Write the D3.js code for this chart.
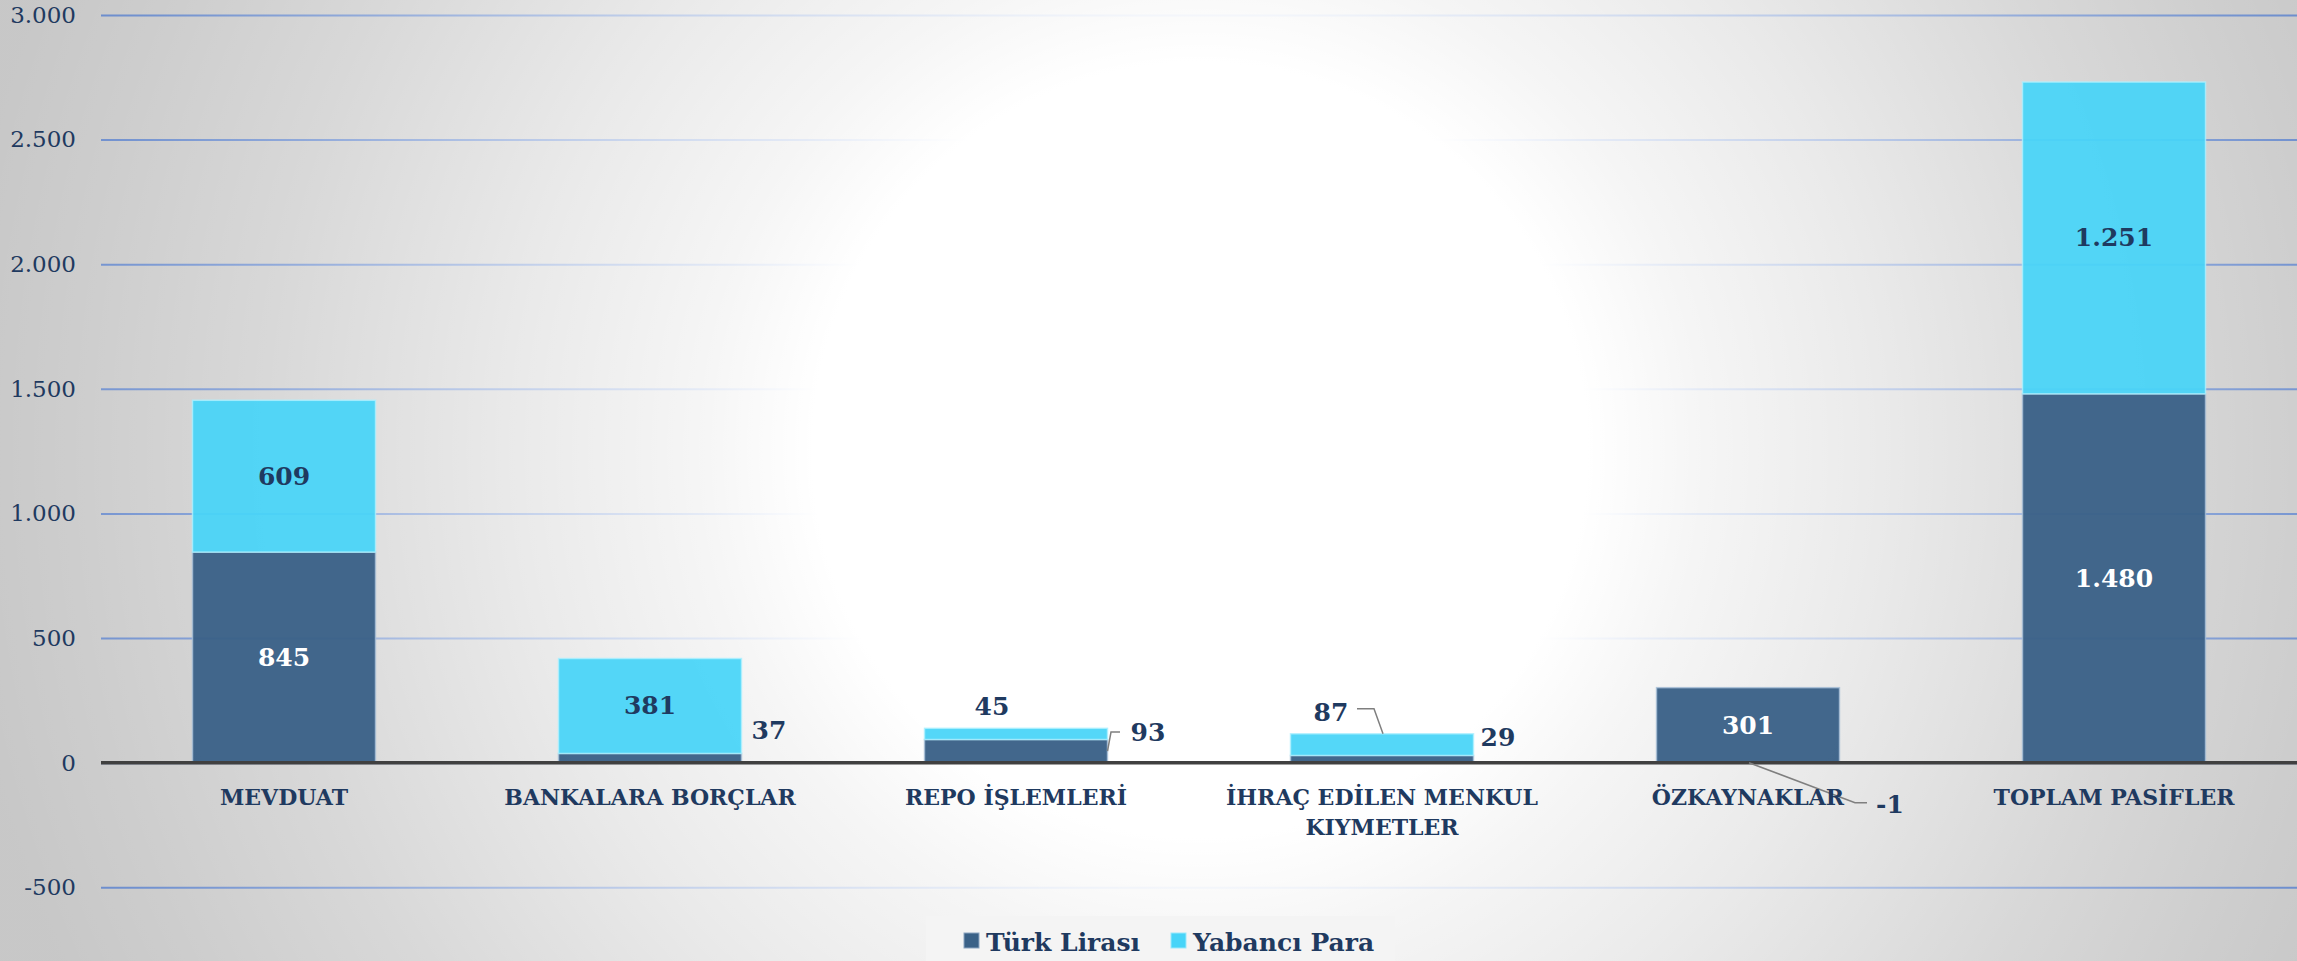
<!DOCTYPE html>
<html><head><meta charset="utf-8">
<script src="https://cdn.jsdelivr.net/npm/d3@7"></script>
<style>html,body{margin:0;padding:0;overflow:hidden;background:#c4c4c4}</style>
</head><body><svg id="chart" width="2297" height="961"></svg>
<script>
// ---- data ----
const categories = ["MEVDUAT","BANKALARA BORÇLAR","REPO İŞLEMLERİ","İHRAÇ EDİLEN MENKUL KIYMETLER","ÖZKAYNAKLAR","TOPLAM PASİFLER"];
const categoryLines = [["MEVDUAT"],["BANKALARA BORÇLAR"],["REPO İŞLEMLERİ"],["İHRAÇ EDİLEN MENKUL","KIYMETLER"],["ÖZKAYNAKLAR"],["TOPLAM PASİFLER"]];
const seriesNames = ["Türk Lirası","Yabancı Para"];
const turkLirasi = [845,37,93,29,301,1480];
const yabanciPara = [609,381,45,87,-1,1251];
const yTicks = [-500,0,500,1000,1500,2000,2500,3000];

// ---- label placement (style config) ----
const outsideLabels = {
  "1|0": {anchor:"start", ref:"right", dx:10, from:"top", dy:-23},
  "2|1": {anchor:"middle", ref:"center", dx:-24, from:"top", dy:-22},
  "2|0": {anchor:"start", ref:"right", dx:23, from:"mid", dy:-19,
          leader:[[0,0,"mid",0],[3.5,0,"mid",-19],[12.5,0,"mid",-19]], leaderRef:"right"},
  "3|1": {anchor:"middle", ref:"center", dx:-51, from:"top", dy:-21,
          leader:[[-25,0,"top",-25],[-8,0,"top",-25],[1,0,"top",0]], leaderRef:"center"},
  "3|0": {anchor:"start", ref:"right", dx:7, from:"top", dy:-18},
  "4|1": {anchor:"start", ref:"center", dx:128, from:"zero", dy:42,
          leader:[[1,0,"zero",0],[107,0,"zero",40],[119,0,"zero",40]], leaderRef:"center"}
};

const W = 2297, H = 961;
const svg = d3.select("#chart");
const defs = svg.append("defs");
const FONT = "'DejaVu Serif', 'Liberation Serif', serif";
const NAVY = "#1f3a60";
const colors = ["#3a6187", "#47d4f8"];

const loc = d3.formatLocale({decimal:",", thousands:".", grouping:[3], currency:["₺",""], minus:"-"});
const fmt = loc.format(",d");

// background
svg.append("rect").attr("width", W).attr("height", H).attr("fill", "#c4c4c4");

const glow = defs.append("radialGradient").attr("id","glow")
  .attr("gradientUnits","userSpaceOnUse").attr("cx",1200).attr("cy",450).attr("r",1250);
[[0,1],[0.31,1],[0.4,0.84],[0.55,0.64],[0.75,0.34],[0.9,0.16],[1,0.06]].forEach(([o,a]) =>
  glow.append("stop").attr("offset",o).attr("stop-color","#ffffff").attr("stop-opacity",a));

// scales
const x = d3.scaleBand().domain(categories).range([101, W]).paddingInner(0.5).paddingOuter(0.25);
const y = d3.scaleLinear().domain([-500, 3000]).range([887.3, 15]);

// gridlines
const grid = svg.append("g").call(d3.axisLeft(y).tickValues(yTicks).tickSize(-(W-101)).tickFormat(""))
  .attr("transform","translate(101,0)");
grid.select(".domain").remove();
grid.selectAll(".tick line").attr("stroke","#4f78c8").attr("stroke-width",2).attr("stroke-opacity",0.9);

// glow overlay
svg.append("rect").attr("width", W).attr("height", H).attr("fill", "url(#glow)");

// tick labels
const yAxis = svg.append("g").attr("transform","translate(101,0)")
  .call(d3.axisLeft(y).tickValues(yTicks).tickSize(0).tickPadding(25).tickFormat(d => fmt(d)));
yAxis.select(".domain").remove();
yAxis.selectAll("text").attr("font-family",FONT).attr("font-size",23).attr("fill",NAVY);

// stack
const rows = categories.map((c,i) => ({cat:c, tl:turkLirasi[i], yp:yabanciPara[i]}));
const stacked = d3.stack().keys(["tl","yp"]).offset(d3.stackOffsetDiverging)(rows);

const barG = svg.append("g");
stacked.forEach((layer, si) => {
  barG.selectAll(null).data(layer).enter().append("rect")
    .attr("x", d => x(d.data.cat))
    .attr("width", x.bandwidth())
    .attr("y", d => y(Math.max(d[0], d[1])))
    .attr("height", d => Math.max(0.001, Math.abs(y(d[0]) - y(d[1]))))
    .attr("fill", colors[si]).attr("fill-opacity", si === 0 ? 0.96 : 0.93)
    .attr("stroke", si === 0 ? "#a9c0d8" : "#aef0ff").attr("stroke-width", 1.5).attr("stroke-opacity",0.8);
});

// zero line
svg.append("line").attr("x1",101).attr("x2",W).attr("y1",y(0)).attr("y2",y(0))
  .attr("stroke","#404040").attr("stroke-width",3.5);

// data labels
const labelG = svg.append("g");
stacked.forEach((layer, si) => {
  layer.forEach((d, ci) => {
    const v = si === 0 ? turkLirasi[ci] : yabanciPara[ci];
    const x0 = x(d.data.cat), bw = x.bandwidth();
    const geo = {center: x0 + bw/2, right: x0 + bw,
      top: y(Math.max(d[0], d[1])), mid: (y(d[0]) + y(d[1]))/2, zero: y(0)};
    const conf = outsideLabels[ci + "|" + si];
    let tx, ty, anchor, fill;
    if (conf) {
      tx = geo[conf.ref] + conf.dx; ty = geo[conf.from] + conf.dy; anchor = conf.anchor; fill = NAVY;
      if (conf.leader) {
        const pts = conf.leader.map(p => [geo[conf.leaderRef] + p[0], geo[p[2]] + p[3]]);
        labelG.append("path").attr("d", d3.line()(pts)).attr("fill","none")
          .attr("stroke","#7f7f7f").attr("stroke-width",1.5);
      }
    } else {
      tx = geo.center; ty = geo.mid; anchor = "middle"; fill = si === 0 ? "#ffffff" : NAVY;
    }
    labelG.append("text").attr("x", tx).attr("y", ty).attr("text-anchor", anchor)
      .attr("dominant-baseline","central").attr("font-family",FONT).attr("font-weight","bold")
      .attr("font-size",25).attr("fill",fill).text(fmt(v));
  });
});

// category labels
const catG = svg.append("g");
categories.forEach((c, i) => {
  const t = catG.append("text").attr("x", x(c) + x.bandwidth()/2).attr("y", 805)
    .attr("text-anchor","middle").attr("font-family",FONT).attr("font-weight","bold")
    .attr("font-size",22).attr("fill",NAVY);
  categoryLines[i].forEach((ln, li) => t.append("tspan").attr("x", x(c) + x.bandwidth()/2)
    .attr("dy", li === 0 ? 0 : 30).text(ln));
});

// legend
const lg = svg.append("g");
lg.append("rect").attr("x",926).attr("y",916).attr("width",469).attr("height",50).attr("fill","#f4f4f4");
const legendX = [964, 1171];
seriesNames.forEach((n, i) => {
  lg.append("rect").attr("x", legendX[i]).attr("y", 933).attr("width",15).attr("height",15)
    .attr("fill", colors[i]).attr("stroke", i===0 ? "#8aa4c0" : "#9ae8fb").attr("stroke-width",1);
  lg.append("text").attr("x", legendX[i] + 22).attr("y", 951).attr("font-family",FONT)
    .attr("font-weight","bold").attr("font-size",25).attr("fill",NAVY).text(n);
});
</script></body></html>
